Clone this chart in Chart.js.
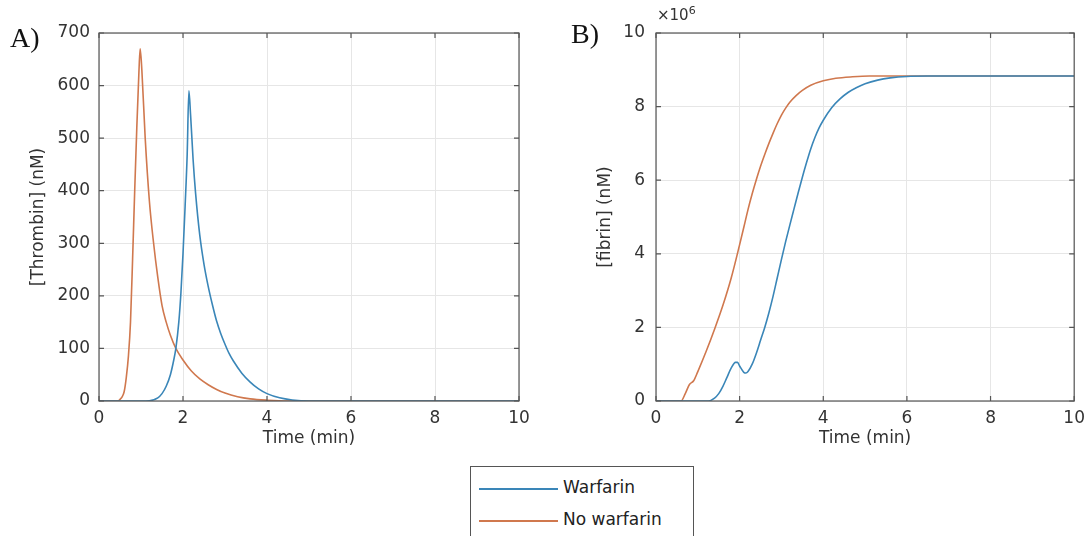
<html>
<head>
<title>Thrombin and fibrin</title>
<script src="https://cdn.jsdelivr.net/npm/chart.js@4.4.0/dist/chart.umd.min.js"></script>
<style>
  body { margin:0; background:#fff; width:1092px; height:536px; position:relative; overflow:hidden; }
  .pane { position:absolute; top:0; width:546px; height:450px; }
  .tag { position:absolute; font-family:"Liberation Serif", serif; font-size:28px; color:#111; }
  #exp { position:absolute; left:657px; top:4px; font-family:"DejaVu Sans", sans-serif; font-size:15px; color:#333; }
  #exp sup { font-size:11px; }
  #legend { position:absolute; left:470px; top:466px; width:224px; height:72px; border:1px solid #555; box-sizing:border-box;
            font-family:"DejaVu Sans", sans-serif; font-size:17px; color:#222; }
  .item { position:absolute; left:8px; height:20px; }
  .item span.sw { position:absolute; left:0; top:10px; width:79px; height:0; border-top:2px solid; }
  .item span.lb { position:absolute; left:84px; top:-1px; white-space:nowrap; }
</style>
</head>
<body>
  <div class="pane" style="left:0"><canvas id="chartA"></canvas></div>
  <div class="pane" style="left:546px"><canvas id="chartB"></canvas></div>
  <div class="tag" style="left:10px; top:22px;">A)</div>
  <div class="tag" style="left:571px; top:18px;">B)</div>
  <div id="exp">&times;10<sup>6</sup></div>
  <div id="legend">
    <div class="item" style="top:11px"><span class="sw" style="border-color:#3a86b8"></span><span class="lb">Warfarin</span></div>
    <div class="item" style="top:43px"><span class="sw" style="border-color:#d0784e"></span><span class="lb">No warfarin</span></div>
  </div>

<script>
// series names
var seriesNames = ["Warfarin", "No warfarin"];
var blue = "#3a86b8", orange = "#d0784e";

// A) thrombin (nM) vs time (min)
var thrTimeW = [0, 1.0, 1.2, 1.4, 1.5, 1.6, 1.7, 1.78, 1.83, 1.9, 1.95, 2.0, 2.05, 2.1, 2.14, 2.18, 2.24, 2.3, 2.4, 2.5, 2.6, 2.7, 2.8, 2.9, 3.0, 3.1, 3.2, 3.4, 3.6, 3.8, 4.0, 4.3, 4.6, 5.0, 10];
var thrW     = [0, 0,   0.5, 6,   14,  28,  50,  78,   100,  150, 205,  280, 370,  470, 590,  545,  460,  395, 315, 260, 218, 183, 152, 128, 108, 90,  76,  53,  36,  23,  14,  6,   2,   0,   0];
var thrTimeN = [0, 0.45, 0.5, 0.55, 0.6, 0.65, 0.7, 0.75, 0.8, 0.85, 0.9, 0.95, 0.98, 1.02, 1.1, 1.2, 1.3, 1.4, 1.5, 1.6, 1.7, 1.83, 2.0, 2.2, 2.4, 2.6, 2.8, 3.0, 3.3, 3.6, 4.0, 4.5, 10];
var thrN     = [0, 0,    3,   8,    18,  45,   85,  150,  270, 400,  520, 625,  670,  630,  500, 380, 300, 235, 182, 150, 125, 100,  78,  57,  42,  31,  22,  15,  8,   4,   1.5, 0,   0];

// B) fibrin (x10^6 nM) vs time (min)
var fibTimeW = [0, 1.25, 1.4, 1.5, 1.6, 1.7, 1.8, 1.9, 1.95, 2.0, 2.1, 2.15, 2.2, 2.3, 2.4, 2.5, 2.6, 2.7, 2.8, 2.9, 3.0, 3.1, 3.2, 3.3, 3.4, 3.5, 3.6, 3.7, 3.8, 3.9, 4.0, 4.2, 4.4, 4.6, 4.8, 5.0, 5.3, 5.6, 6.0, 6.5, 10];
var fibW     = [0, 0,    0.08, 0.2, 0.4, 0.65, 0.9, 1.05, 1.05, 0.95, 0.78, 0.76, 0.8, 1.0, 1.3, 1.65, 2.0, 2.4, 2.85, 3.35, 3.85, 4.33, 4.78, 5.22, 5.66, 6.08, 6.48, 6.85, 7.16, 7.42, 7.63, 7.97, 8.21, 8.39, 8.52, 8.62, 8.72, 8.78, 8.82, 8.83, 8.83];
var fibTimeN = [0, 0.6, 0.7, 0.8, 0.9, 1.0, 1.2, 1.4, 1.6, 1.8, 2.0, 2.1, 2.2, 2.3, 2.4, 2.5, 2.6, 2.7, 2.8, 2.9, 3.0, 3.1, 3.2, 3.35, 3.5, 3.7, 4.0, 4.3, 4.7, 5.1, 10];
var fibN     = [0, 0,   0.2, 0.45, 0.55, 0.8, 1.35, 1.95, 2.6, 3.35, 4.25, 4.72, 5.2, 5.63, 6.02, 6.38, 6.7, 7.0, 7.28, 7.54, 7.77, 7.96, 8.12, 8.3, 8.44, 8.58, 8.7, 8.77, 8.81, 8.83, 8.83];

var xTicks = [0, 2, 4, 6, 8, 10];

function pts(t, v) {
  var out = [];
  for (var i = 0; i < t.length; i++) out.push({x: t[i], y: v[i]});
  return out;
}

var font = {family: "DejaVu Sans", size: 17};

// draws the matlab style box and inner tick marks
var boxPlugin = {
  id: 'box',
  afterDraw: function(chart) {
    var a = chart.chartArea, ctx = chart.ctx;
    var xs = chart.scales.x, ys = chart.scales.y;
    ctx.save();
    ctx.strokeStyle = '#555';
    ctx.lineWidth = 1.2;
    ctx.strokeRect(a.left, a.top, a.right - a.left, a.bottom - a.top);
    ctx.beginPath();
    xs.ticks.forEach(function(t) {
      var px = xs.getPixelForValue(t.value);
      ctx.moveTo(px, a.bottom); ctx.lineTo(px, a.bottom - 5);
      ctx.moveTo(px, a.top); ctx.lineTo(px, a.top + 5);
    });
    ys.ticks.forEach(function(t) {
      var py = ys.getPixelForValue(t.value);
      ctx.moveTo(a.left, py); ctx.lineTo(a.left + 5, py);
      ctx.moveTo(a.right, py); ctx.lineTo(a.right - 5, py);
    });
    ctx.stroke();
    ctx.restore();
  }
};

function makeChart(id, dsW, dsN, yMax, yStep, yTitle, cfg) {
  new Chart(document.getElementById(id), {
    type: 'line',
    data: {
      datasets: [
        {label: seriesNames[0], data: dsW, borderColor: blue, borderWidth: 1.6, pointRadius: 0, cubicInterpolationMode: 'monotone'},
        {label: seriesNames[1], data: dsN, borderColor: orange, borderWidth: 1.6, pointRadius: 0, cubicInterpolationMode: 'monotone'}
      ]
    },
    options: {
      responsive: false,
      animation: false,
      events: [],
      layout: {padding: {top: 33, right: cfg.right, left: 0, bottom: 0}},
      plugins: {legend: {display: false}, tooltip: {enabled: false}},
      scales: {
        x: {
          type: 'linear', min: 0, max: 10,
          afterBuildTicks: function(s) { s.ticks = xTicks.map(function(v) { return {value: v}; }); },
          grid: {color: '#e6e6e6', drawTicks: false},
          border: {display: false},
          ticks: {color: '#333', font: font, padding: 7, maxRotation: 0},
          title: {display: true, text: 'Time (min)', color: '#333', font: font, padding: {top: 0, bottom: 1}},
          afterFit: function(s) { s.height = 49; }
        },
        y: {
          min: 0, max: yMax,
          ticks: {stepSize: yStep, color: '#333', font: font, padding: cfg.tickPad},
          grid: {color: '#e6e6e6', drawTicks: false},
          border: {display: false},
          title: {display: true, text: yTitle, color: '#333', font: font, padding: {top: cfg.titlePad, bottom: 0}},
          afterFit: function(s) { s.width = cfg.yWidth; }
        }
      }
    },
    plugins: [boxPlugin]
  });
}

document.getElementById('chartA').width = 546; document.getElementById('chartA').height = 450;
document.getElementById('chartB').width = 546; document.getElementById('chartB').height = 450;

makeChart('chartA', pts(thrTimeW, thrW), pts(thrTimeN, thrN), 700, 100, '[Thrombin] (nM)',
  {right: 27, yWidth: 99, tickPad: 9, titlePad: 28});
makeChart('chartB', pts(fibTimeW, fibW), pts(fibTimeN, fibN), 10, 2, '[fibrin] (nM)',
  {right: 15, yWidth: 110, tickPad: 11, titlePad: 49});
</script>
</body>
</html>
